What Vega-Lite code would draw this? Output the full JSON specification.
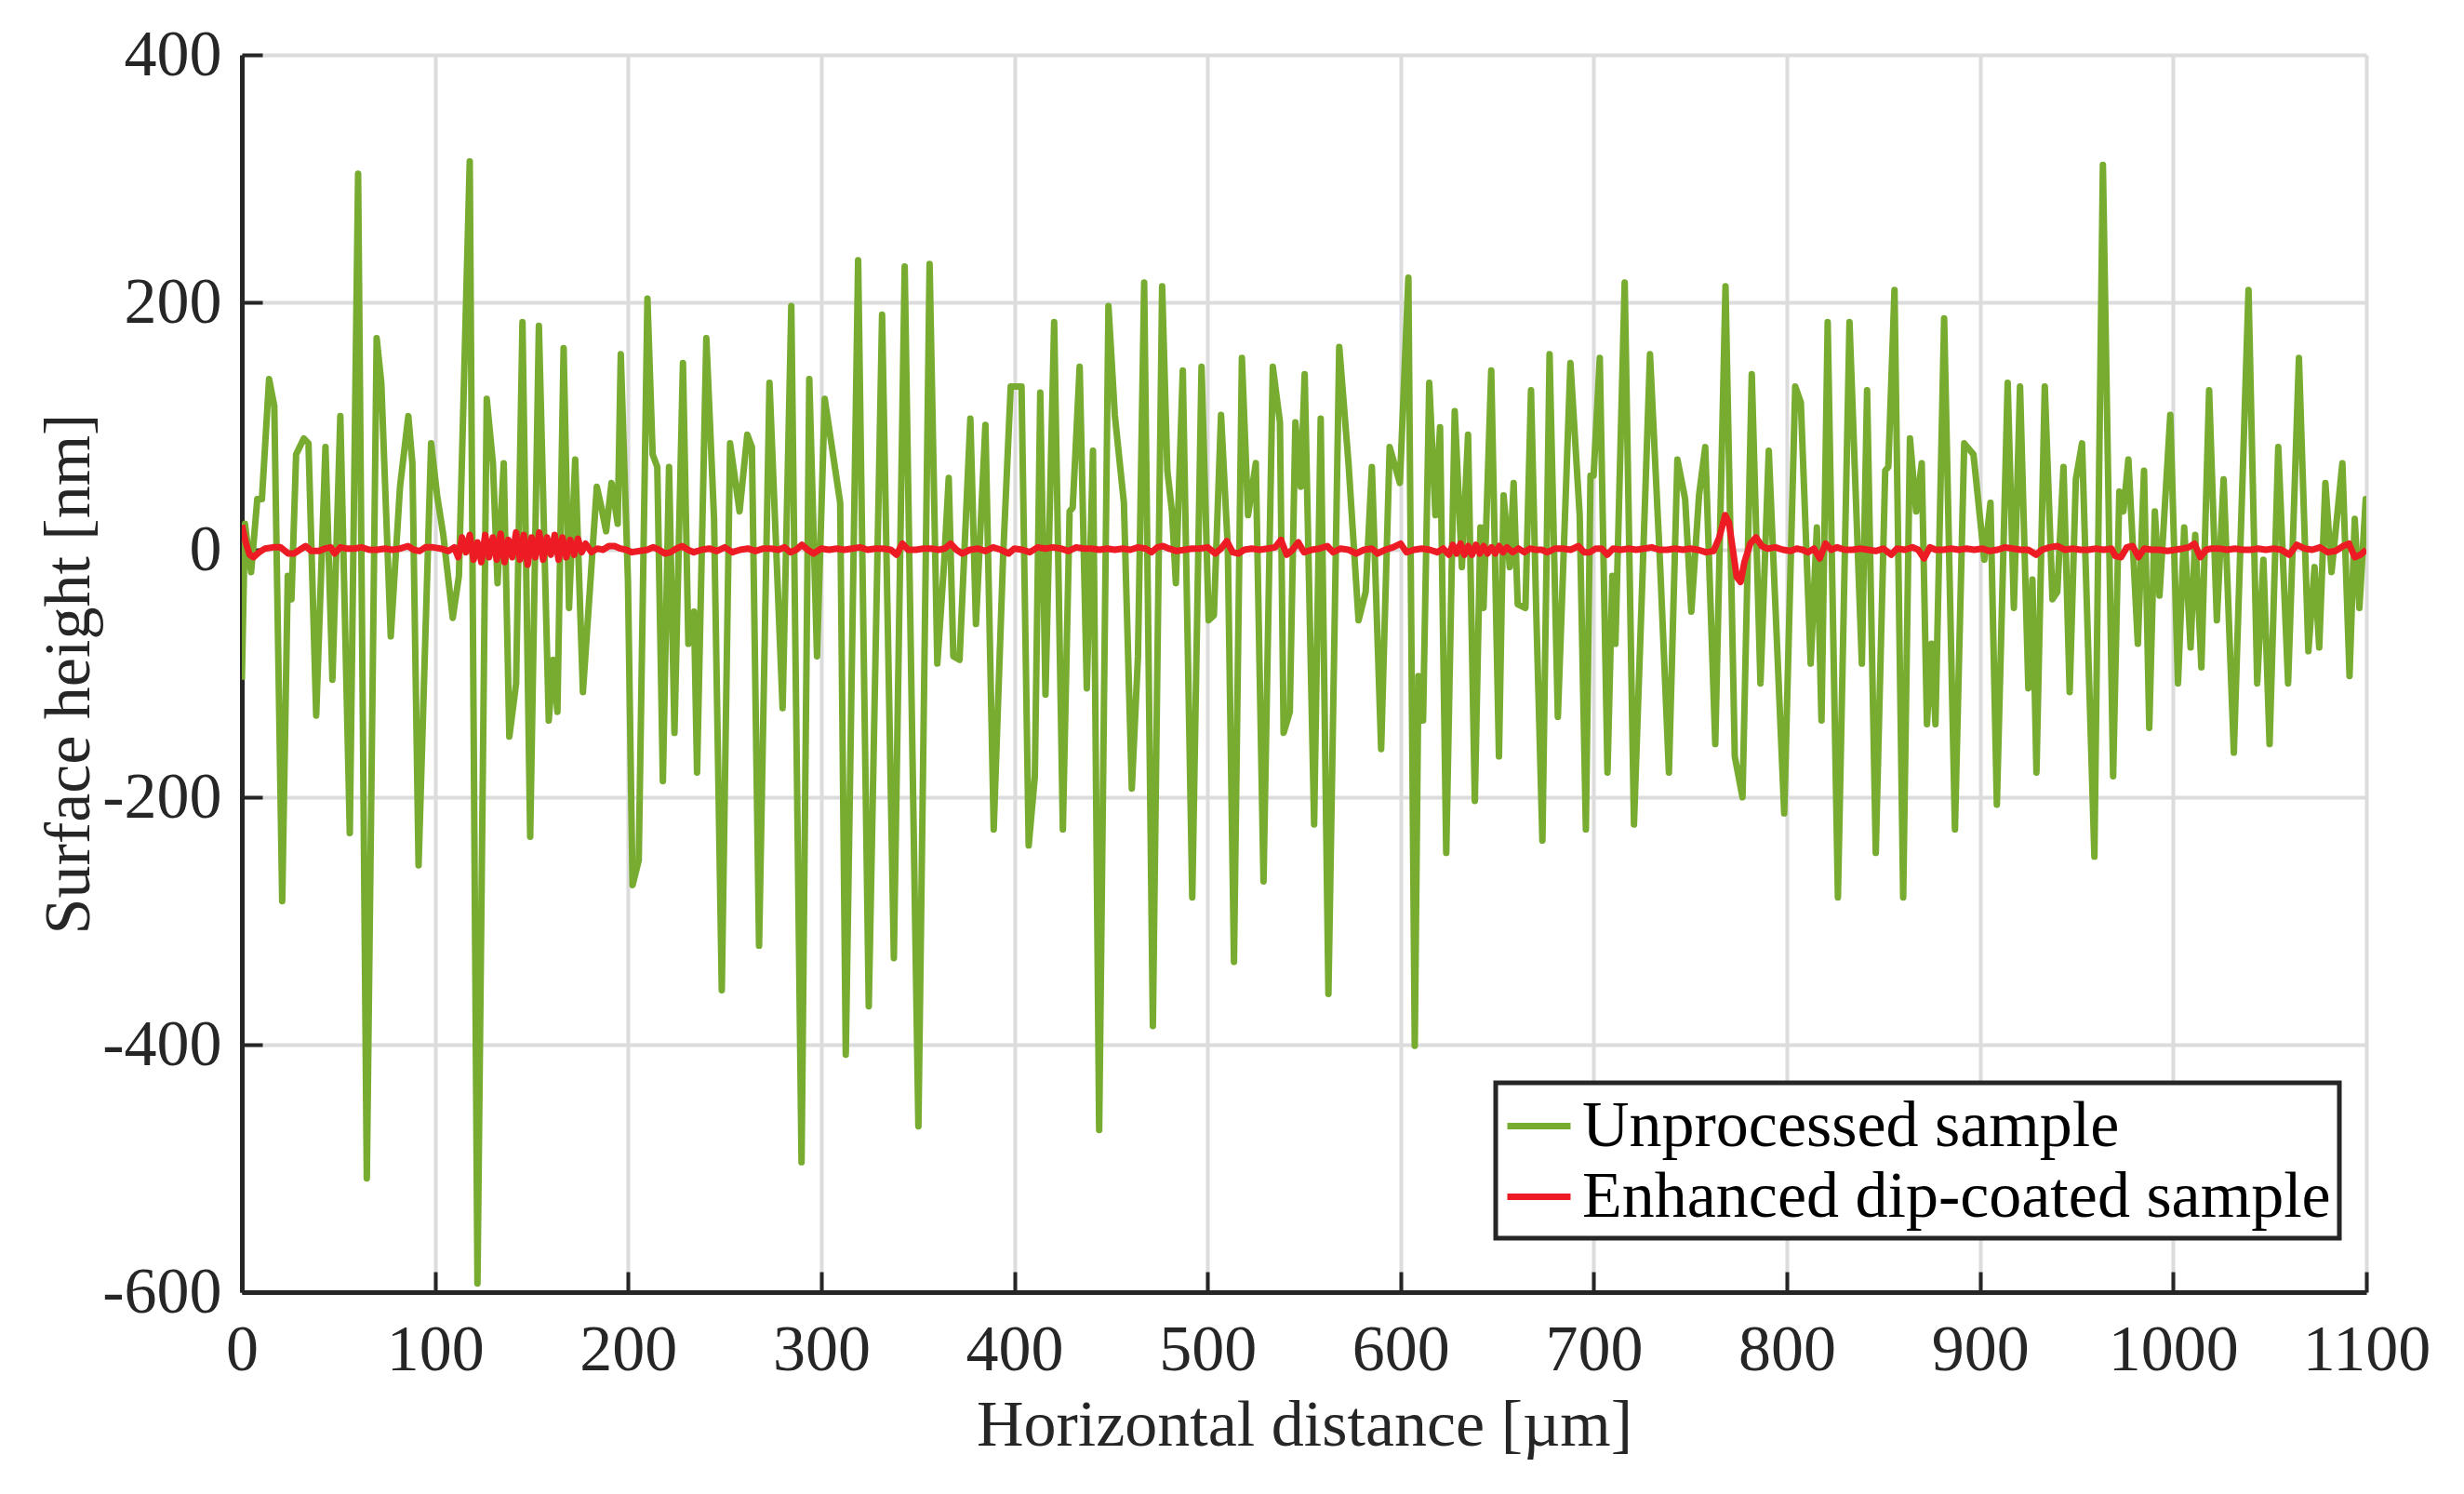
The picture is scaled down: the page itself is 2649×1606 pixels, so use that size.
{
  "$schema": "https://vega.github.io/schema/vega-lite/v6.json",
  "width": 2284,
  "height": 1330,
  "autosize": {"type": "none"},
  "padding": {"left": 260, "top": 59, "right": 105, "bottom": 217},
  "background": "white",
  "config": {
    "font": "Liberation Serif",
    "view": {"stroke": null},
    "axis": {
      "grid": true,
      "gridColor": "#dcdcdc",
      "gridWidth": 4,
      "domainColor": "#262626",
      "domainWidth": 5,
      "tickColor": "#262626",
      "tickWidth": 4,
      "tickSize": -22,
      "labelFont": "Liberation Serif",
      "labelFontSize": 70,
      "labelColor": "#262626",
      "labelFlush": false,
      "labelOverlap": false,
      "labelExpr": "toString(datum.value)",
      "titleFont": "Liberation Serif",
      "titleFontSize": 70,
      "titleFontWeight": "normal",
      "titleColor": "#262626"
    }
  },
  "datasets": {
    "unprocessed": [
      {"d": 0, "h": -105}, {"d": 1.6, "h": 21}, {"d": 4.8, "h": -18}, {"d": 8, "h": 41}, {"d": 10.4, "h": 41},
      {"d": 14.1, "h": 138}, {"d": 16.8, "h": 116}, {"d": 20.9, "h": -284}, {"d": 23.8, "h": -21}, {"d": 25.7, "h": -40},
      {"d": 28.1, "h": 77}, {"d": 32.1, "h": 90}, {"d": 34.5, "h": 86}, {"d": 38.5, "h": -134}, {"d": 43.3, "h": 83},
      {"d": 46.9, "h": -105}, {"d": 51.0, "h": 108}, {"d": 55.9, "h": -229}, {"d": 60.2, "h": 304}, {"d": 64.7, "h": -508},
      {"d": 69.8, "h": 171}, {"d": 72.2, "h": 135}, {"d": 77.1, "h": -70}, {"d": 81.9, "h": 51}, {"d": 86.2, "h": 108},
      {"d": 88.3, "h": 70}, {"d": 91.5, "h": -255}, {"d": 98.0, "h": 86}, {"d": 101.1, "h": 44}, {"d": 104.3, "h": 12},
      {"d": 109.2, "h": -55}, {"d": 112.4, "h": -21}, {"d": 118.0, "h": 314}, {"d": 122.0, "h": -593}, {"d": 126.8, "h": 122},
      {"d": 130.0, "h": 70}, {"d": 132.4, "h": -27}, {"d": 135.6, "h": 70}, {"d": 138.5, "h": -151}, {"d": 142.0, "h": -108},
      {"d": 145.3, "h": 184}, {"d": 149.3, "h": -232}, {"d": 153.8, "h": 181}, {"d": 158.9, "h": -138}, {"d": 161.3, "h": -89},
      {"d": 163.4, "h": -131}, {"d": 166.6, "h": 163}, {"d": 169.4, "h": -47}, {"d": 172.6, "h": 73}, {"d": 176.6, "h": -115},
      {"d": 183.8, "h": 51}, {"d": 186.2, "h": 34}, {"d": 188.6, "h": 15}, {"d": 191.4, "h": 54}, {"d": 194.6, "h": 21},
      {"d": 196.2, "h": 158}, {"d": 199.9, "h": -24}, {"d": 202.3, "h": -271}, {"d": 205.5, "h": -251}, {"d": 210.0, "h": 203},
      {"d": 212.7, "h": 77}, {"d": 215.1, "h": 67}, {"d": 218.0, "h": -187}, {"d": 221.2, "h": 67}, {"d": 224.0, "h": -148},
      {"d": 228.4, "h": 151}, {"d": 231.2, "h": -76}, {"d": 234.1, "h": -50}, {"d": 235.7, "h": -180}, {"d": 240.5, "h": 171},
      {"d": 244.5, "h": 25}, {"d": 248.5, "h": -356}, {"d": 252.8, "h": 86}, {"d": 257.7, "h": 31}, {"d": 261.7, "h": 93},
      {"d": 264.1, "h": 83}, {"d": 267.8, "h": -320}, {"d": 273.2, "h": 135}, {"d": 280.0, "h": -128}, {"d": 284.5, "h": 197},
      {"d": 289.8, "h": -495}, {"d": 293.8, "h": 138}, {"d": 297.8, "h": -86}, {"d": 301.8, "h": 122}, {"d": 305.8, "h": 80},
      {"d": 309.8, "h": 38}, {"d": 312.7, "h": -408}, {"d": 319.1, "h": 234}, {"d": 324.6, "h": -369}, {"d": 331.5, "h": 190},
      {"d": 337.6, "h": -330}, {"d": 343.2, "h": 229}, {"d": 350.3, "h": -466}, {"d": 356.1, "h": 231}, {"d": 360.1, "h": -92},
      {"d": 363.6, "h": -11}, {"d": 366.0, "h": 58}, {"d": 368.4, "h": -86}, {"d": 371.6, "h": -89}, {"d": 377.2, "h": 106},
      {"d": 380.1, "h": -60}, {"d": 385.0, "h": 101}, {"d": 389.3, "h": -226}, {"d": 394.1, "h": -8}, {"d": 398.1, "h": 132},
      {"d": 403.7, "h": 132}, {"d": 407.4, "h": -239}, {"d": 410.6, "h": -183}, {"d": 413.4, "h": 127}, {"d": 416.1, "h": -117},
      {"d": 420.6, "h": 184}, {"d": 425.1, "h": -226}, {"d": 428.6, "h": 31}, {"d": 430.2, "h": 34}, {"d": 433.8, "h": 148},
      {"d": 437.5, "h": -112}, {"d": 440.7, "h": 80}, {"d": 443.9, "h": -469}, {"d": 448.7, "h": 197}, {"d": 452.0, "h": 109},
      {"d": 456.7, "h": 38}, {"d": 460.8, "h": -193}, {"d": 464.0, "h": -86}, {"d": 467.2, "h": 216}, {"d": 471.7, "h": -385},
      {"d": 476.5, "h": 213}, {"d": 479.2, "h": 64}, {"d": 481.6, "h": 31}, {"d": 483.6, "h": -27}, {"d": 487.2, "h": 145},
      {"d": 492.1, "h": -281}, {"d": 496.9, "h": 148}, {"d": 500.6, "h": -57}, {"d": 503.3, "h": -53}, {"d": 507.0, "h": 109},
      {"d": 510.5, "h": 2}, {"d": 513.7, "h": -333}, {"d": 517.8, "h": 155}, {"d": 521.0, "h": 28}, {"d": 525.0, "h": 70},
      {"d": 529.0, "h": -268}, {"d": 533.8, "h": 148}, {"d": 537.5, "h": 103}, {"d": 539.4, "h": -148}, {"d": 542.6, "h": -131},
      {"d": 545.5, "h": 103}, {"d": 548.3, "h": 51}, {"d": 550.3, "h": 142}, {"d": 555.2, "h": -222}, {"d": 558.6, "h": 106},
      {"d": 562.6, "h": -359}, {"d": 568.2, "h": 164}, {"d": 573.0, "h": 70}, {"d": 578.2, "h": -57}, {"d": 581.9, "h": -34},
      {"d": 585.1, "h": 67}, {"d": 589.9, "h": -161}, {"d": 594.3, "h": 83}, {"d": 599.6, "h": 54}, {"d": 604.0, "h": 220},
      {"d": 607.3, "h": -401}, {"d": 609.2, "h": -102}, {"d": 611.6, "h": -138}, {"d": 614.8, "h": 135}, {"d": 618.0, "h": 28},
      {"d": 620.4, "h": 99}, {"d": 623.6, "h": -245}, {"d": 628.0, "h": 112}, {"d": 631.7, "h": -14}, {"d": 634.9, "h": 93},
      {"d": 638.4, "h": -203}, {"d": 641.3, "h": 18}, {"d": 642.9, "h": -47}, {"d": 646.9, "h": 145}, {"d": 650.9, "h": -167},
      {"d": 653.3, "h": 44}, {"d": 656.5, "h": -14}, {"d": 658.5, "h": 54}, {"d": 660.6, "h": -44}, {"d": 664.6, "h": -47},
      {"d": 667.5, "h": 129}, {"d": 670.2, "h": -50}, {"d": 673.4, "h": -235}, {"d": 677.1, "h": 158}, {"d": 681.4, "h": -135},
      {"d": 687.9, "h": 151}, {"d": 692.7, "h": 28}, {"d": 695.9, "h": -226}, {"d": 698.3, "h": 60}, {"d": 699.9, "h": 60},
      {"d": 703.1, "h": 155}, {"d": 707.1, "h": -180}, {"d": 709.6, "h": -21}, {"d": 711.2, "h": -76}, {"d": 716.0, "h": 216},
      {"d": 720.8, "h": -222}, {"d": 724.8, "h": -40}, {"d": 729.1, "h": 158}, {"d": 734.4, "h": -14}, {"d": 738.9, "h": -180},
      {"d": 743.3, "h": 73}, {"d": 747.3, "h": 41}, {"d": 750.5, "h": -50}, {"d": 754.5, "h": 44}, {"d": 757.7, "h": 83},
      {"d": 762.9, "h": -157}, {"d": 768.2, "h": 213}, {"d": 773.0, "h": -167}, {"d": 777.0, "h": -200}, {"d": 781.8, "h": 142},
      {"d": 786.3, "h": -108}, {"d": 790.6, "h": 80}, {"d": 793.8, "h": -37}, {"d": 798.6, "h": -213}, {"d": 804.3, "h": 132},
      {"d": 807.2, "h": 119}, {"d": 812.3, "h": -92}, {"d": 815.5, "h": 18}, {"d": 817.9, "h": -138}, {"d": 821.1, "h": 184},
      {"d": 826.4, "h": -281}, {"d": 832.4, "h": 184}, {"d": 838.8, "h": -92}, {"d": 841.5, "h": 129}, {"d": 846.0, "h": -245},
      {"d": 850.9, "h": 64}, {"d": 852.5, "h": 67}, {"d": 855.7, "h": 210}, {"d": 860.2, "h": -281}, {"d": 863.7, "h": 90},
      {"d": 866.9, "h": 31}, {"d": 869.8, "h": 70}, {"d": 872.5, "h": -141}, {"d": 874.9, "h": -76}, {"d": 876.9, "h": -141},
      {"d": 881.4, "h": 187}, {"d": 887.0, "h": -226}, {"d": 891.8, "h": 86}, {"d": 896.6, "h": 77}, {"d": 902.2, "h": -8},
      {"d": 905.4, "h": 38}, {"d": 908.7, "h": -206}, {"d": 914.3, "h": 135}, {"d": 917.5, "h": -47}, {"d": 920.7, "h": 132},
      {"d": 925.0, "h": -112}, {"d": 927.1, "h": -24}, {"d": 929.2, "h": -180}, {"d": 933.5, "h": 132}, {"d": 937.5, "h": -40},
      {"d": 940.0, "h": -34}, {"d": 943.2, "h": 67}, {"d": 946.4, "h": -115}, {"d": 949.6, "h": 57}, {"d": 952.8, "h": 86},
      {"d": 959.2, "h": -248}, {"d": 963.6, "h": 311}, {"d": 968.9, "h": -183}, {"d": 972.1, "h": 47}, {"d": 974.2, "h": 31},
      {"d": 976.8, "h": 73}, {"d": 981.7, "h": -76}, {"d": 984.9, "h": 64}, {"d": 987.6, "h": -144}, {"d": 990.5, "h": 31},
      {"d": 992.9, "h": -37}, {"d": 998.5, "h": 109}, {"d": 1002.5, "h": -108}, {"d": 1005.7, "h": 18}, {"d": 1009.0, "h": -79},
      {"d": 1011.4, "h": 12}, {"d": 1014.6, "h": -95}, {"d": 1018.6, "h": 129}, {"d": 1022.6, "h": -57}, {"d": 1026.1, "h": 57},
      {"d": 1031.4, "h": -164}, {"d": 1039.0, "h": 210}, {"d": 1043.5, "h": -108}, {"d": 1046.7, "h": -8}, {"d": 1049.9, "h": -157},
      {"d": 1054.4, "h": 83}, {"d": 1059.5, "h": -108}, {"d": 1065.1, "h": 155}, {"d": 1070.0, "h": -82}, {"d": 1073.2, "h": -14},
      {"d": 1075.6, "h": -79}, {"d": 1078.8, "h": 54}, {"d": 1082.0, "h": -18}, {"d": 1087.6, "h": 70}, {"d": 1091.3, "h": -102},
      {"d": 1094.0, "h": 25}, {"d": 1096.4, "h": -47}, {"d": 1099.7, "h": 41}, {"d": 1100, "h": 40}
    ],
    "enhanced": [
      {"d": 0, "h": 20}, {"d": 2, "h": 6}, {"d": 4, "h": -4}, {"d": 6, "h": -6}, {"d": 9, "h": -2}, {"d": 12, "h": 1},
      {"d": 16, "h": 2}, {"d": 20, "h": 2}, {"d": 24, "h": -3}, {"d": 27, "h": -3}, {"d": 30, "h": 0}, {"d": 33, "h": 3},
      {"d": 36, "h": -1}, {"d": 40, "h": -1}, {"d": 43, "h": 1}, {"d": 46, "h": 2}, {"d": 48, "h": -3}, {"d": 51, "h": 2},
      {"d": 54, "h": 1}, {"d": 58, "h": 1}, {"d": 62, "h": 2}, {"d": 66, "h": 0}, {"d": 70, "h": 0}, {"d": 74, "h": 1},
      {"d": 78, "h": 0}, {"d": 82, "h": 1}, {"d": 86, "h": 3}, {"d": 89, "h": 0}, {"d": 92, "h": -1}, {"d": 95, "h": 2},
      {"d": 99, "h": 2}, {"d": 103, "h": 1}, {"d": 107, "h": -1}, {"d": 110, "h": 2}, {"d": 112, "h": -6}, {"d": 114, "h": 10},
      {"d": 116, "h": -2}, {"d": 118, "h": 12}, {"d": 120, "h": -8}, {"d": 122, "h": 6}, {"d": 124, "h": -10}, {"d": 126, "h": 12},
      {"d": 128, "h": -6}, {"d": 130, "h": 10}, {"d": 132, "h": -8}, {"d": 134, "h": 13}, {"d": 136, "h": -10}, {"d": 138, "h": 8},
      {"d": 140, "h": -6}, {"d": 142, "h": 14}, {"d": 144, "h": -8}, {"d": 146, "h": 12}, {"d": 148, "h": -12}, {"d": 150, "h": 10},
      {"d": 152, "h": -6}, {"d": 154, "h": 14}, {"d": 156, "h": -8}, {"d": 158, "h": 10}, {"d": 160, "h": -4}, {"d": 162, "h": 12},
      {"d": 164, "h": -8}, {"d": 166, "h": 10}, {"d": 168, "h": -6}, {"d": 170, "h": 8}, {"d": 172, "h": -4}, {"d": 174, "h": 9},
      {"d": 176, "h": -2}, {"d": 178, "h": 5}, {"d": 181, "h": -2}, {"d": 184, "h": 1}, {"d": 187, "h": 0}, {"d": 190, "h": 3},
      {"d": 193, "h": 3}, {"d": 196, "h": 1}, {"d": 199, "h": 0}, {"d": 202, "h": -2}, {"d": 206, "h": -1}, {"d": 210, "h": 0},
      {"d": 213, "h": 2}, {"d": 216, "h": 0}, {"d": 219, "h": -3}, {"d": 222, "h": -2}, {"d": 225, "h": 1}, {"d": 228, "h": 3},
      {"d": 231, "h": 0}, {"d": 234, "h": -2}, {"d": 238, "h": 0}, {"d": 242, "h": 1}, {"d": 246, "h": -1}, {"d": 250, "h": 2},
      {"d": 254, "h": -2}, {"d": 258, "h": 0}, {"d": 262, "h": 1}, {"d": 266, "h": -1}, {"d": 270, "h": 1}, {"d": 274, "h": 1},
      {"d": 278, "h": 0}, {"d": 281, "h": 2}, {"d": 284, "h": -2}, {"d": 287, "h": 0}, {"d": 290, "h": 4}, {"d": 293, "h": 0},
      {"d": 296, "h": -3}, {"d": 300, "h": 1}, {"d": 304, "h": 0}, {"d": 308, "h": 1}, {"d": 312, "h": 0}, {"d": 316, "h": 1},
      {"d": 320, "h": 2}, {"d": 324, "h": 0}, {"d": 328, "h": 1}, {"d": 332, "h": 1}, {"d": 336, "h": 0}, {"d": 339, "h": -4},
      {"d": 342, "h": 5}, {"d": 345, "h": 0}, {"d": 349, "h": 0}, {"d": 353, "h": 1}, {"d": 357, "h": 1}, {"d": 361, "h": 0},
      {"d": 364, "h": 1}, {"d": 367, "h": 5}, {"d": 370, "h": 0}, {"d": 373, "h": -3}, {"d": 377, "h": 0}, {"d": 381, "h": 1},
      {"d": 385, "h": -1}, {"d": 389, "h": 2}, {"d": 393, "h": 0}, {"d": 397, "h": -3}, {"d": 400, "h": 1}, {"d": 404, "h": 0},
      {"d": 408, "h": -2}, {"d": 412, "h": 2}, {"d": 416, "h": 1}, {"d": 420, "h": 2}, {"d": 424, "h": 1}, {"d": 428, "h": -1},
      {"d": 432, "h": 2}, {"d": 436, "h": 1}, {"d": 440, "h": 1}, {"d": 444, "h": 0}, {"d": 448, "h": 1}, {"d": 452, "h": 0},
      {"d": 456, "h": 1}, {"d": 460, "h": 0}, {"d": 464, "h": 2}, {"d": 468, "h": 1}, {"d": 471, "h": -2}, {"d": 474, "h": 2},
      {"d": 477, "h": 3}, {"d": 480, "h": 1}, {"d": 484, "h": -1}, {"d": 488, "h": 0}, {"d": 492, "h": 1}, {"d": 496, "h": 1},
      {"d": 500, "h": 2}, {"d": 504, "h": -3}, {"d": 507, "h": 1}, {"d": 510, "h": 7}, {"d": 513, "h": -2}, {"d": 516, "h": -3},
      {"d": 519, "h": 0}, {"d": 523, "h": 1}, {"d": 527, "h": 0}, {"d": 531, "h": 1}, {"d": 535, "h": 2}, {"d": 538, "h": 8},
      {"d": 541, "h": -4}, {"d": 544, "h": 0}, {"d": 547, "h": 6}, {"d": 550, "h": -2}, {"d": 554, "h": 0}, {"d": 558, "h": 1},
      {"d": 562, "h": 3}, {"d": 565, "h": -2}, {"d": 569, "h": 1}, {"d": 573, "h": 0}, {"d": 577, "h": -3}, {"d": 581, "h": 0},
      {"d": 585, "h": 1}, {"d": 588, "h": -3}, {"d": 592, "h": 0}, {"d": 596, "h": 2}, {"d": 600, "h": 5}, {"d": 603, "h": -2},
      {"d": 607, "h": 0}, {"d": 611, "h": 1}, {"d": 615, "h": 0}, {"d": 619, "h": -2}, {"d": 622, "h": 1}, {"d": 625, "h": -4},
      {"d": 627, "h": 4}, {"d": 629, "h": -3}, {"d": 631, "h": 5}, {"d": 633, "h": -4}, {"d": 635, "h": 3}, {"d": 637, "h": -4},
      {"d": 639, "h": 4}, {"d": 641, "h": -3}, {"d": 643, "h": 3}, {"d": 645, "h": -3}, {"d": 647, "h": 2}, {"d": 649, "h": -3},
      {"d": 651, "h": 3}, {"d": 653, "h": -2}, {"d": 655, "h": 2}, {"d": 658, "h": -2}, {"d": 661, "h": 1}, {"d": 664, "h": -2},
      {"d": 667, "h": 1}, {"d": 670, "h": 0}, {"d": 673, "h": 0}, {"d": 676, "h": -2}, {"d": 680, "h": 1}, {"d": 684, "h": 1},
      {"d": 688, "h": 0}, {"d": 692, "h": 3}, {"d": 695, "h": -2}, {"d": 698, "h": -2}, {"d": 701, "h": 1}, {"d": 704, "h": 1},
      {"d": 707, "h": -4}, {"d": 710, "h": 1}, {"d": 714, "h": 0}, {"d": 718, "h": 1}, {"d": 722, "h": 0}, {"d": 726, "h": 1},
      {"d": 730, "h": 2}, {"d": 734, "h": 0}, {"d": 738, "h": 0}, {"d": 742, "h": 1}, {"d": 746, "h": 0}, {"d": 750, "h": 1},
      {"d": 754, "h": 0}, {"d": 758, "h": -2}, {"d": 762, "h": -1}, {"d": 765, "h": 10}, {"d": 768, "h": 28}, {"d": 770, "h": 22},
      {"d": 772, "h": 0}, {"d": 774, "h": -22}, {"d": 776, "h": -26}, {"d": 778, "h": -10}, {"d": 781, "h": 5}, {"d": 784, "h": 10},
      {"d": 787, "h": 3}, {"d": 790, "h": 1}, {"d": 794, "h": 2}, {"d": 798, "h": 0}, {"d": 802, "h": -1}, {"d": 805, "h": 1},
      {"d": 808, "h": 0}, {"d": 811, "h": -2}, {"d": 814, "h": 1}, {"d": 817, "h": -7}, {"d": 820, "h": 5}, {"d": 823, "h": 0},
      {"d": 826, "h": 2}, {"d": 830, "h": 0}, {"d": 834, "h": 0}, {"d": 838, "h": 1}, {"d": 842, "h": 0}, {"d": 846, "h": -1},
      {"d": 850, "h": 1}, {"d": 854, "h": -4}, {"d": 857, "h": 1}, {"d": 861, "h": 0}, {"d": 865, "h": 2}, {"d": 868, "h": 0},
      {"d": 871, "h": -7}, {"d": 874, "h": 2}, {"d": 877, "h": 0}, {"d": 881, "h": 0}, {"d": 885, "h": 1}, {"d": 889, "h": 0},
      {"d": 893, "h": 1}, {"d": 897, "h": 0}, {"d": 901, "h": 1}, {"d": 905, "h": -1}, {"d": 909, "h": 0}, {"d": 913, "h": 2},
      {"d": 917, "h": 1}, {"d": 921, "h": 0}, {"d": 925, "h": 0}, {"d": 929, "h": -4}, {"d": 932, "h": 0}, {"d": 936, "h": 2},
      {"d": 940, "h": 3}, {"d": 944, "h": 0}, {"d": 948, "h": 1}, {"d": 952, "h": 0}, {"d": 956, "h": 0}, {"d": 960, "h": 1},
      {"d": 964, "h": 0}, {"d": 968, "h": 1}, {"d": 970, "h": -5}, {"d": 973, "h": -6}, {"d": 976, "h": 2}, {"d": 979, "h": 3},
      {"d": 982, "h": -6}, {"d": 985, "h": 1}, {"d": 989, "h": 0}, {"d": 993, "h": 0}, {"d": 997, "h": -1}, {"d": 1001, "h": 0},
      {"d": 1005, "h": 1}, {"d": 1008, "h": 2}, {"d": 1011, "h": 5}, {"d": 1014, "h": -6}, {"d": 1017, "h": 0}, {"d": 1020, "h": 1},
      {"d": 1024, "h": 1}, {"d": 1028, "h": 0}, {"d": 1032, "h": 1}, {"d": 1036, "h": 0}, {"d": 1040, "h": 0}, {"d": 1044, "h": 1},
      {"d": 1048, "h": 0}, {"d": 1052, "h": 1}, {"d": 1056, "h": 0}, {"d": 1060, "h": -4}, {"d": 1064, "h": 4}, {"d": 1068, "h": 1},
      {"d": 1072, "h": 0}, {"d": 1076, "h": 2}, {"d": 1080, "h": -2}, {"d": 1084, "h": -1}, {"d": 1088, "h": 3}, {"d": 1091, "h": 5},
      {"d": 1094, "h": -6}, {"d": 1097, "h": -4}, {"d": 1100, "h": 0}
    ]
  },
  "encoding": {
    "x": {
      "field": "d",
      "type": "quantitative",
      "scale": {"domain": [0, 1100], "nice": false, "zero": false},
      "axis": {
        "values": [0, 100, 200, 300, 400, 500, 600, 700, 800, 900, 1000, 1100],
        "labelBaseline": "alphabetic",
        "labelPadding": 105,
        "title": "Horizontal distance [µm]",
        "titleBaseline": "alphabetic",
        "titleY": 164
      }
    },
    "y": {
      "field": "h",
      "type": "quantitative",
      "scale": {"domain": [-600, 400], "nice": false, "zero": false},
      "axis": {
        "values": [-600, -400, -200, 0, 200, 400],
        "labelPadding": 44,
        "title": "Surface height [nm]",
        "titleBaseline": "alphabetic",
        "titleX": -165,
        "titleY": 665
      }
    }
  },
  "layer": [
    {
      "data": {"name": "unprocessed"},
      "mark": {"type": "line", "strokeWidth": 7, "strokeJoin": "round", "clip": true},
      "encoding": {
        "color": {
          "datum": "Unprocessed sample",
          "type": "nominal",
          "scale": {
            "domain": ["Unprocessed sample", "Enhanced dip-coated sample"],
            "range": ["#77AC30", "#ED1C24"]
          },
          "legend": {
            "title": null,
            "orient": "none",
            "legendX": 1348,
            "legendY": 1105,
            "direction": "vertical",
            "symbolType": "stroke",
            "symbolSize": 4624,
            "symbolStrokeWidth": 7,
            "labelFont": "Liberation Serif",
            "labelFontSize": 70,
            "labelColor": "#000000",
            "labelOffset": 9,
            "labelLimit": 1200,
            "rowPadding": 3,
            "padding": 9,
            "strokeColor": "#262626",
            "fillColor": "#ffffff",
            "cornerRadius": 0,
            "encode": {"legend": {"update": {"strokeWidth": {"value": 5}}}}
          }
        }
      }
    },
    {
      "data": {"name": "enhanced"},
      "mark": {"type": "line", "strokeWidth": 7, "strokeJoin": "round", "clip": true},
      "encoding": {
        "color": {"datum": "Enhanced dip-coated sample", "type": "nominal"}
      }
    }
  ]
}
